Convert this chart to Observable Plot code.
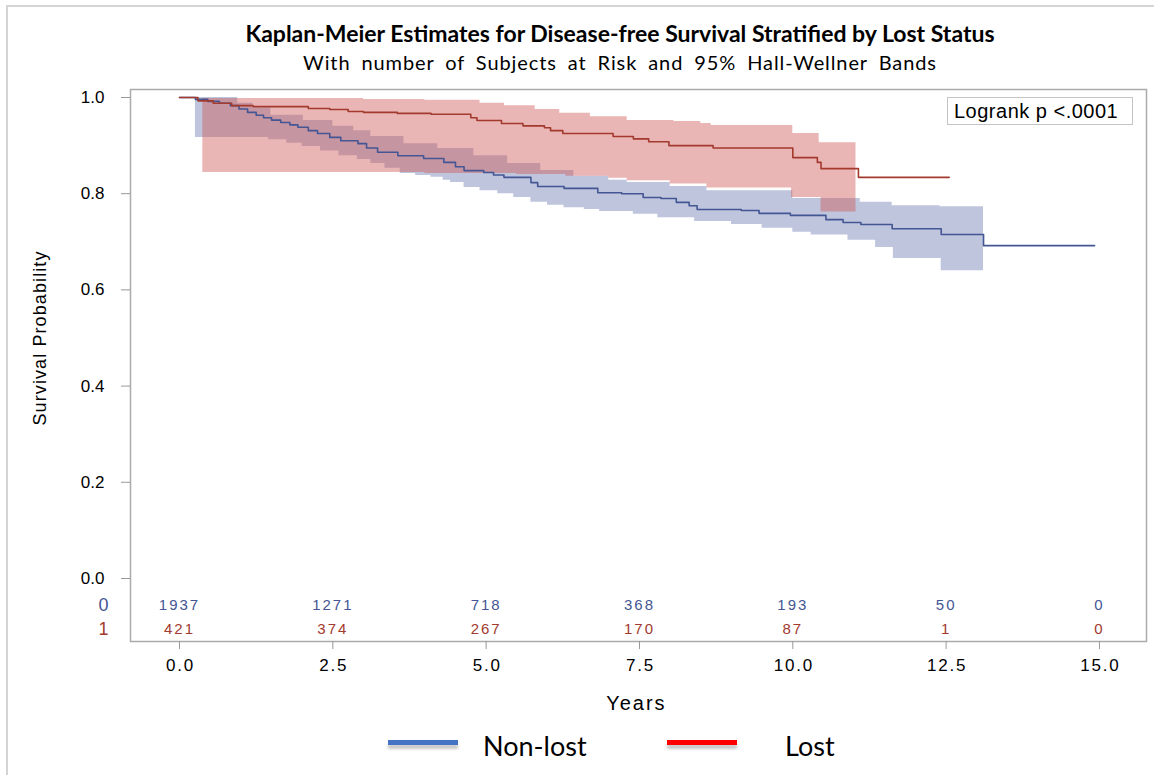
<!DOCTYPE html>
<html><head><meta charset="utf-8">
<script src="https://cdn.jsdelivr.net/npm/d3@7"></script>
<script src="https://cdn.jsdelivr.net/npm/@observablehq/plot@0.6"></script>
<style>
body{margin:0;background:#fff;}
#wrap{position:relative;width:1154px;height:775px;overflow:hidden;background:#fff;font-family:"Liberation Sans",Arial,sans-serif;}
#border{position:absolute;left:6px;top:5px;width:1300px;height:900px;border-left:2px solid #d4d4d4;border-top:2px solid #d4d4d4;}
#chart{position:absolute;left:0;top:0;}
#title{position:absolute;top:19px;left:0;width:1240px;text-align:center;font:bold 23px Lato,sans-serif;color:#000;white-space:nowrap;}
#subtitle{position:absolute;top:50px;left:0;width:1240px;text-align:center;font:20px Lato,sans-serif;color:#000;word-spacing:5px;letter-spacing:0.9px;white-space:nowrap;}
#logrank{position:absolute;left:947px;top:97px;width:186px;height:28px;border:1px solid #c4c4c4;box-sizing:border-box;font:20px "Liberation Sans",Arial,sans-serif;letter-spacing:0.5px;line-height:26px;padding-left:6px;color:#000;background:#fff;white-space:nowrap;}
.sw{position:absolute;top:740px;width:70px;height:5px;box-shadow:0 4px 3px #c8c8c8;}
.lt{position:absolute;top:729px;font:27px Lato,sans-serif;color:#000;}
</style></head>
<body>
<div id="wrap">
  <div id="border"></div>
  <div id="chart"></div>
  <div id="title"></div>
  <div id="subtitle"></div>
  <div id="logrank"></div>
  <div class="sw" style="left:388px;background:#4472C4"></div>
  <div class="lt" id="lg0" style="left:483px"></div>
  <div class="sw" style="left:667px;background:#FF0000"></div>
  <div class="lt" id="lg1" style="left:785px"></div>
</div>
<script>
const titleText = "Kaplan-Meier Estimates for Disease-free Survival Stratified by Lost Status";
const subtitleText = "With number of Subjects at Risk and 95% Hall-Wellner Bands";
const logrankText = "Logrank p <.0001";
const seriesNames = ["Non-lost", "Lost"];
const strataCodes = ["0", "1"];
const xLabel = "Years";
const yLabel = "Survival Probability";
const xTicks = [0, 2.5, 5, 7.5, 10, 12.5, 15];
const yTicks = [0, 0.2, 0.4, 0.6, 0.8, 1.0];

// Numbers at risk
const riskYears = [0, 2.5, 5, 7.5, 10, 12.5, 15];
const riskNonLost = [1937, 1271, 718, 368, 193, 50, 0];
const riskLost = [421, 374, 267, 170, 87, 1, 0];

// Non-lost KM estimate (step times, survival after step)
const nonLostTime = [0,0.26,0.46,0.65,0.83,0.97,1.11,1.25,1.37,1.5,1.65,1.8,1.93,2.1,2.25,2.45,2.63,2.91,3.05,3.23,3.56,3.98,4.31,4.5,4.64,4.96,5.12,5.29,5.73,5.84,6.27,6.82,7.21,7.56,7.85,8.1,8.31,8.44,9.16,9.45,9.96,10.54,10.82,11.11,11.62,12.42,13.11];
const nonLostSurv = [1.0,0.996,0.992,0.988,0.983,0.976,0.969,0.963,0.958,0.953,0.948,0.943,0.938,0.931,0.925,0.917,0.910,0.904,0.895,0.886,0.879,0.873,0.865,0.856,0.848,0.844,0.839,0.834,0.823,0.815,0.811,0.802,0.800,0.792,0.790,0.782,0.775,0.767,0.765,0.759,0.755,0.746,0.740,0.736,0.727,0.715,0.692];
const nonLostEnd = 14.92;

// Non-lost Hall-Wellner band
const nonLostLowTime = [0.26,1.45,1.75,2.0,2.3,2.6,2.9,3.12,3.35,3.6,3.85,4.1,4.3,4.42,4.64,4.9,5.19,5.45,5.73,6.0,6.27,6.6,6.85,7.4,7.8,8.4,9.0,9.5,10.0,10.3,10.9,11.35,11.64,12.42];
const nonLostLow = [0.917,0.912,0.905,0.898,0.889,0.879,0.871,0.863,0.853,0.842,0.838,0.834,0.828,0.823,0.813,0.806,0.800,0.792,0.782,0.776,0.771,0.767,0.763,0.757,0.750,0.742,0.736,0.728,0.720,0.714,0.703,0.688,0.665,0.640];
const nonLostHighTime = [0.26,0.95,1.2,1.49,2.02,2.5,2.84,3.12,3.66,4.21,4.8,5.35,5.89,6.43,7.0,7.3,8.0,8.6,10.0,11.1,11.62,12.4];
const nonLostHigh = [1.0,0.988,0.978,0.963,0.952,0.940,0.931,0.919,0.904,0.894,0.879,0.863,0.848,0.836,0.828,0.823,0.815,0.806,0.790,0.782,0.775,0.773];
const nonLostBandEnd = 13.11;

// Lost KM estimate
const lostTime = [0,0.3,0.55,0.85,1.2,2.1,2.45,2.75,3.0,3.55,4.1,4.75,4.85,5.25,5.6,5.95,6.05,6.25,7.07,7.4,7.65,7.98,8.7,10.0,10.4,10.46,11.07];
const lostSurv = [1.0,0.993,0.988,0.983,0.981,0.977,0.975,0.971,0.969,0.967,0.965,0.958,0.952,0.946,0.941,0.937,0.931,0.925,0.919,0.914,0.908,0.900,0.895,0.875,0.865,0.852,0.834];
const lostEnd = 12.55;

// Lost Hall-Wellner band
const lostLowTime = [0.38,4.0,5.5,6.3,7.0,7.3,8.0,8.6,9.98,10.46];
const lostLow = [0.844,0.842,0.840,0.836,0.832,0.827,0.820,0.812,0.792,0.762];
const lostHighTime = [0.38,3.0,4.0,4.9,5.3,5.8,6.2,6.7,7.3,8.06,8.5,8.67,10.0,10.43];
const lostHigh = [0.998,0.996,0.994,0.988,0.983,0.975,0.967,0.960,0.952,0.950,0.946,0.942,0.925,0.906];
const lostBandEnd = 11.03;

const blueLine = "#445694", redLine = "#A23A2E";
const blueFill = "#6F7EB3", redFill = "#D05B5B";

function stepAt(ts, vs, t) {
  let v = vs[0];
  for (let i = 0; i < ts.length; i++) if (ts[i] <= t + 1e-9) v = vs[i];
  return v;
}
function curveTable(ts, vs, end) {
  const rows = ts.map((t, i) => ({t, s: vs[i]}));
  rows.push({t: end, s: vs[vs.length - 1]});
  return rows;
}
function bandTable(lt, lv, ht, hv, end) {
  const times = Array.from(new Set([...lt, ...ht])).sort((a, b) => a - b);
  const rows = times.map(t => ({t, lo: stepAt(lt, lv, t), hi: stepAt(ht, hv, t)}));
  rows.push({t: end, lo: lv[lv.length - 1], hi: hv[hv.length - 1]});
  return rows;
}

const nonLostCurve = curveTable(nonLostTime, nonLostSurv, nonLostEnd);
const lostCurve = curveTable(lostTime, lostSurv, lostEnd);
const nonLostBand = bandTable(nonLostLowTime, nonLostLow, nonLostHighTime, nonLostHigh, nonLostBandEnd);
const lostBand = bandTable(lostLowTime, lostLow, lostHighTime, lostHigh, lostBandEnd);

const riskRows0 = riskYears.map((x, i) => ({x, n: riskNonLost[i]}));
const riskRows1 = riskYears.map((x, i) => ({x, n: riskLost[i]}));

const chart = Plot.plot({
  width: 1154, height: 720,
  marginLeft: 130, marginRight: 8, marginTop: 89, marginBottom: 79,
  style: {fontFamily: "'Liberation Sans', Arial, sans-serif", fontSize: "16px", color: "#000", background: "transparent"},
  x: {domain: [-0.799, 15.767]},
  y: {domain: [-0.131, 1.0166]},
  marks: [
    Plot.areaY(nonLostBand, {x: "t", y1: "lo", y2: "hi", curve: "step-after", fill: blueFill, fillOpacity: 0.45}),
    Plot.areaY(lostBand, {x: "t", y1: "lo", y2: "hi", curve: "step-after", fill: redFill, fillOpacity: 0.45}),
    Plot.line(nonLostCurve, {x: "t", y: "s", curve: "step-after", stroke: blueLine, strokeWidth: 1.6}),
    Plot.line(lostCurve, {x: "t", y: "s", curve: "step-after", stroke: redLine, strokeWidth: 1.6}),
    Plot.frame({stroke: "#aaaaaa", strokeWidth: 1.5}),
    Plot.axisY({ticks: yTicks, tickFormat: d3.format(".1f"), tickSize: 9, tickPadding: 17, stroke: "#999", fill: "#000", label: null, fontSize: 17}),
    Plot.axisX({ticks: xTicks, tickFormat: d3.format(".1f"), tickSize: 8, tickPadding: 9, stroke: "#999", fill: "#000", label: null, fontSize: 17}),
    Plot.text([yLabel], {y: () => 0.5, frameAnchor: "left", dx: -90, rotate: -90, textAnchor: "middle", text: d => d, fontSize: 18, fill: "#000"}),
    Plot.text([xLabel], {x: () => 7.45, frameAnchor: "bottom", dy: 62, lineAnchor: "middle", text: d => d, fontSize: 20, fill: "#000"}),
    Plot.text(riskRows0, {x: "x", text: d => String(d.n), frameAnchor: "bottom", dy: -36, lineAnchor: "middle", fill: blueLine, fontSize: 15}),
    Plot.text(riskRows1, {x: "x", text: d => String(d.n), frameAnchor: "bottom", dy: -12, lineAnchor: "middle", fill: redLine, fontSize: 15}),
    Plot.text([strataCodes[0]], {frameAnchor: "bottom-left", dx: -27, dy: -36, textAnchor: "middle", lineAnchor: "middle", text: d => d, fill: blueLine, fontSize: 18}),
    Plot.text([strataCodes[1]], {frameAnchor: "bottom-left", dx: -27, dy: -12, textAnchor: "middle", lineAnchor: "middle", text: d => d, fill: redLine, fontSize: 18})
  ]
});
// letter spacing tweaks (text stays real SVG text)
const svg = d3.select(chart);
svg.selectAll('g[aria-label="x-axis tick label"] text').style("letter-spacing", "1.8px").attr("dx", "1px");
const textGroups = svg.selectAll('g[aria-label="text"]').nodes();
const spacing = ["1.1px", "2px", "2px", "2px", "0px", "0px"];
textGroups.forEach((g, i) => d3.select(g).selectAll("text").style("letter-spacing", spacing[i] || "0px"));
document.getElementById("chart").appendChild(chart);
document.getElementById("title").textContent = titleText;
document.getElementById("subtitle").textContent = subtitleText;
document.getElementById("logrank").textContent = logrankText;
document.getElementById("lg0").textContent = seriesNames[0];
document.getElementById("lg1").textContent = seriesNames[1];
</script>
</body></html>
